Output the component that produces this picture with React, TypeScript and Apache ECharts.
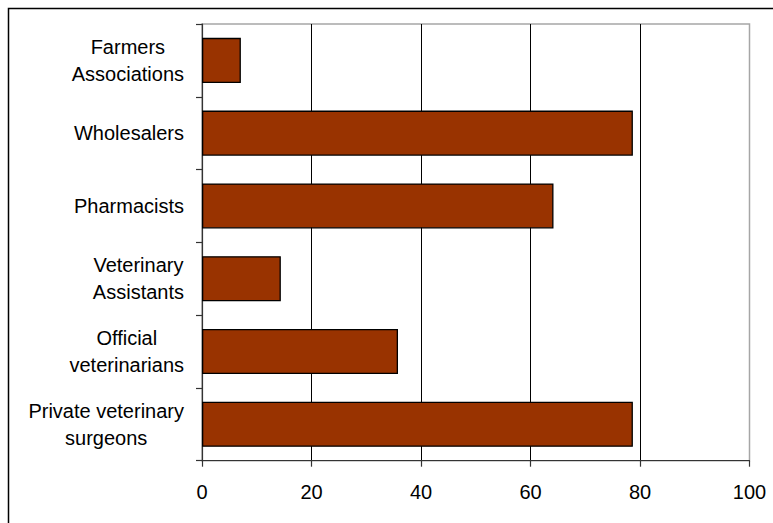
import React, { useEffect, useRef } from "react";
import * as echarts from "echarts";

// Categories listed top to bottom
const categories = [
  "Farmers\nAssociations",
  "Wholesalers",
  "Pharmacists",
  "Veterinary\nAssistants",
  "Official\nveterinarians",
  "Private veterinary\nsurgeons",
];

const values = [7.1, 78.7, 64.2, 14.4, 35.8, 78.7];

const xMin = 0;
const xMax = 100;
const xStep = 20;

const FONT = "'Liberation Sans', Arial, sans-serif";
const FONT_SIZE = 20;

export default function App() {
  const ref = useRef<HTMLDivElement>(null);

  useEffect(() => {
    if (!ref.current) return;
    const chart = echarts.init(ref.current, undefined, { renderer: "svg" });
    chart.setOption({
      animation: false,
      backgroundColor: "#ffffff",
      textStyle: { fontFamily: FONT },
      grid: {
        left: 202,
        right: 23.5,
        top: 24,
        bottom: 62.3,
        containLabel: false,
        show: true,
        borderColor: "#a6a6a6",
        borderWidth: 1.5,
        backgroundColor: "transparent",
      },
      xAxis: {
        type: "value",
        min: xMin,
        max: xMax,
        interval: xStep,
        axisLine: { show: true, lineStyle: { color: "#333333", width: 1.2 } },
        axisTick: { show: true, length: 6, lineStyle: { color: "#333333", width: 1.2 } },
        axisLabel: {
          color: "#000000",
          fontSize: FONT_SIZE,
          fontFamily: FONT,
          margin: 21,
        },
        splitLine: {
          show: true,
          showMinLine: false,
          showMaxLine: false,
          lineStyle: { color: "#000000", width: 1 },
        },
      },
      yAxis: {
        type: "category",
        data: categories,
        inverse: true,
        axisLine: { show: true, lineStyle: { color: "#333333", width: 1.2 } },
        axisTick: {
          show: true,
          length: 6,
          alignWithLabel: false,
          lineStyle: { color: "#333333", width: 1.2 },
        },
        axisLabel: {
          color: "#000000",
          fontSize: FONT_SIZE,
          fontFamily: FONT,
          margin: 18,
          align: "right",
          formatter: (v: string) =>
            v
              .split("\n")
              .map((line) => `{c|${line}}`)
              .join("\n"),
          rich: {
            c: {
              align: "center",
              fontSize: FONT_SIZE,
              fontFamily: FONT,
              color: "#000000",
              lineHeight: 27,
            },
          },
        },
        splitLine: { show: false },
      },
      series: [
        {
          type: "bar",
          data: values,
          barCategoryGap: "38%",
          itemStyle: {
            color: "#993300",
            borderColor: "#000000",
            borderWidth: 1.3,
          },
        },
      ],
      graphic: [
        {
          type: "rect",
          shape: { x: 8.5, y: 8.5, width: 780, height: 530 },
          style: { fill: "none", stroke: "#000000", lineWidth: 1.5 },
          silent: true,
          z: 100,
        },
      ],
    });
    return () => chart.dispose();
  }, []);

  return (
    <div
      ref={ref}
      style={{ position: "absolute", left: 0, top: 0, width: 773, height: 523 }}
    />
  );
}
